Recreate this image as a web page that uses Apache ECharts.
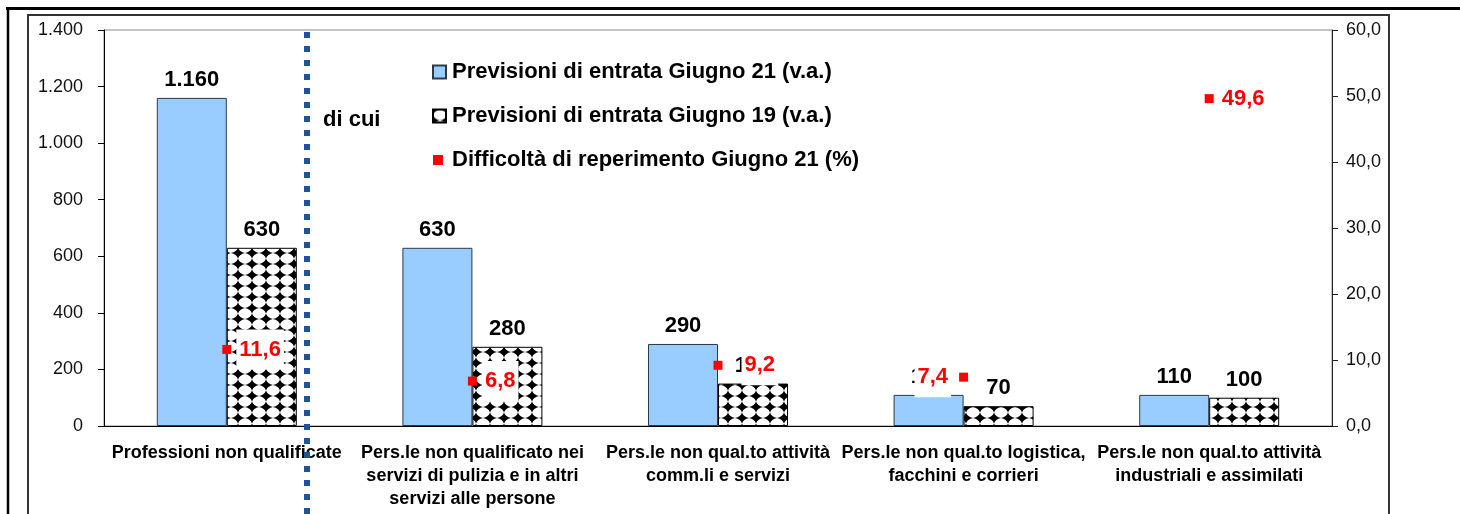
<!DOCTYPE html>
<html>
<head>
<meta charset="utf-8">
<script src="https://cdn.jsdelivr.net/npm/echarts@6/dist/echarts.min.js"></script>
<style>
  html, body { margin: 0; padding: 0; background: #fff; }
  #chart { width: 1460px; height: 514px; }
</style>
</head>
<body>
<div id="chart"></div>
<script>
// dati
var categories = [
  'Professioni non qualificate',
  'Pers.le non qualificato nei\nservizi di pulizia e in altri\nservizi alle persone',
  'Pers.le non qual.to attività\ncomm.li e servizi',
  'Pers.le non qual.to logistica,\nfacchini e corrieri',
  'Pers.le non qual.to attività\nindustriali e assimilati'
]
var giugno21 = [1160, 630, 290, 110, 110]
var giugno19 = [630, 280, 150, 70, 100]
var difficolta = [11.6, 6.8, 9.2, 7.4, 49.6]

var seriesNames = [
  'Previsioni di entrata Giugno 21 (v.a.)',
  'Previsioni di entrata Giugno 19 (v.a.)',
  'Difficoltà di reperimento Giugno 21 (%)'
]

// posizione etichette difficoltà (solo stile)
var diffLabelPos = ['right', 'right', 'right', 'left', 'right']
var diffLabelDist = [5, 5, 19, 8, 5]

var FONT = '"Liberation Sans", Arial, sans-serif'

function fmtMigliaia(v) {
  return String(v).replace(/\B(?=(\d{3})+(?!\d))/g, '.')
}
function fmtDecimale(v) {
  return Number(v).toFixed(1).replace('.', ',')
}

// retino a scacchi (bianco su nero)
function makeChecker() {
  var w = 14, h = 11
  var c = document.createElement('canvas')
  c.width = w
  c.height = h
  var ctx = c.getContext('2d')
  ctx.fillStyle = '#000'
  ctx.fillRect(0, 0, w, h)
  ctx.fillStyle = '#fff'
  var k = 0.6
  var cx = w / 2, cy = h / 2
  ctx.beginPath()
  ctx.moveTo(cx, 0)
  ctx.quadraticCurveTo(cx * 1.5 + (w - cx * 1.5) * k, cy / 2 - (cy / 2) * k, w, cy)
  ctx.quadraticCurveTo(cx * 1.5 + (w - cx * 1.5) * k, cy * 1.5 + (h - cy * 1.5) * k, cx, h)
  ctx.quadraticCurveTo(cx / 2 - (cx / 2) * k, cy * 1.5 + (h - cy * 1.5) * k, 0, cy)
  ctx.quadraticCurveTo(cx / 2 - (cx / 2) * k, cy / 2 - (cy / 2) * k, cx, 0)
  ctx.closePath()
  ctx.fill()
  return c
}

var myChart = echarts.init(document.getElementById('chart'))

var option = {
  animation: false,
  textStyle: { fontFamily: FONT },
  grid: {
    left: 104,
    right: 128,
    top: 30,
    bottom: 88,
    show: true,
    borderColor: '#888',
    borderWidth: 1
  },
  legend: [
    {
      data: [
        { name: seriesNames[0], icon: 'rect' },
        { name: seriesNames[1], icon: 'rect' }
      ],
      orient: 'vertical',
      left: 432,
      top: 61,
      padding: 0,
      itemWidth: 13,
      itemHeight: 13,
      itemGap: 22,
      selectedMode: false,
      textStyle: { fontSize: 22, fontWeight: 'bold', color: '#000', lineHeight: 22, padding: [0, 0, 0, 1] }
    },
    {
      data: [{ name: seriesNames[2], icon: 'rect' }],
      orient: 'vertical',
      left: 433,
      top: 149,
      padding: 0,
      itemWidth: 10,
      itemHeight: 10,
      selectedMode: false,
      textStyle: { fontSize: 22, fontWeight: 'bold', color: '#000', lineHeight: 22, padding: [0, 0, 0, 4] }
    }
  ],
  xAxis: {
    type: 'category',
    data: categories,
    axisLine: { lineStyle: { color: '#000', width: 1 } },
    axisTick: { length: 6, lineStyle: { color: '#555' } },
    axisLabel: {
      interval: 0,
      color: '#000',
      fontWeight: 'bold',
      fontSize: 18,
      lineHeight: 23,
      margin: 16
    }
  },
  yAxis: [
    {
      type: 'value',
      min: 0,
      max: 1400,
      interval: 200,
      position: 'left',
      axisLine: { show: true, lineStyle: { color: '#000' } },
      axisTick: { show: true, length: 6, lineStyle: { color: '#000' } },
      splitLine: { show: false },
      axisLabel: { fontSize: 18, color: '#111', margin: 21, formatter: fmtMigliaia }
    },
    {
      type: 'value',
      min: 0,
      max: 60,
      interval: 10,
      position: 'right',
      axisLine: { show: true, lineStyle: { color: '#222' } },
      axisTick: { show: true, length: 6, lineStyle: { color: '#222' } },
      splitLine: { show: false },
      axisLabel: { fontSize: 18, color: '#111', margin: 14, formatter: fmtDecimale }
    }
  ],
  series: [
    {
      name: seriesNames[0],
      type: 'bar',
      data: giugno21,
      barGap: 0,
      barCategoryGap: '43%',
      itemStyle: { color: '#99CCFF', borderColor: '#2b3a4a', borderWidth: 1 },
      label: {
        show: true,
        position: 'top',
        distance: 7,
        color: '#000',
        fontWeight: 'bold',
        fontSize: 22,
        formatter: function (p) { return fmtMigliaia(p.value) }
      }
    },
    {
      name: seriesNames[1],
      type: 'bar',
      data: giugno19,
      itemStyle: {
        color: { image: makeChecker(), repeat: 'repeat' },
        borderColor: '#000',
        borderWidth: 1
      },
      label: {
        show: true,
        position: 'top',
        distance: 7,
        color: '#000',
        fontWeight: 'bold',
        fontSize: 22,
        formatter: function (p) { return fmtMigliaia(p.value) }
      }
    },
    {
      name: seriesNames[2],
      type: 'scatter',
      yAxisIndex: 1,
      z: 6,
      symbol: 'rect',
      symbolSize: 9,
      itemStyle: { color: '#FF0000', opacity: 1 },
      data: difficolta.map(function (v, i) {
        return {
          value: v,
          label: { position: diffLabelPos[i], distance: diffLabelDist[i] }
        }
      }),
      label: {
        show: true,
        color: '#FF0000',
        fontWeight: 'bold',
        fontSize: 22,
        backgroundColor: '#fff',
        padding: [9, 3],
        formatter: function (p) { return fmtDecimale(p.value) }
      }
    }
  ],
  graphic: [
    // cornici esterne
    { type: 'line', silent: true, z: 1, shape: { x1: 6, y1: 8.5, x2: 1460, y2: 8.5 }, style: { stroke: '#000', lineWidth: 3 } },
    { type: 'line', silent: true, z: 1, shape: { x1: 8, y1: 7, x2: 8, y2: 514 }, style: { stroke: '#000', lineWidth: 2.5 } },
    { type: 'rect', silent: true, z: 1, shape: { x: 28, y: 15, width: 1361, height: 520 }, style: { fill: 'none', stroke: '#333', lineWidth: 2 } },
    // separatore "di cui"
    { type: 'line', silent: true, z: 50, shape: { x1: 307, y1: 32, x2: 307, y2: 514 }, style: { stroke: '#1F5597', lineWidth: 6, lineDash: [6, 8] } },
    { type: 'text', silent: true, z: 50, left: 323, top: 109, style: { text: 'di cui', font: 'bold 22px ' + FONT, fill: '#000' } }
  ]
}

option && myChart.setOption(option)
</script>
</body>
</html>
